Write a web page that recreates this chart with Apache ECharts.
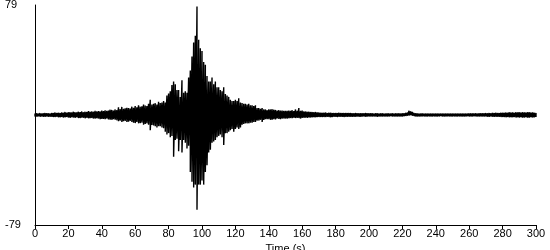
<!DOCTYPE html>
<html>
<head>
<meta charset="utf-8">
<script src="https://cdn.jsdelivr.net/npm/echarts@6/dist/echarts.min.js"></script>
<style>html,body{margin:0;padding:0;background:#fff}#c{width:550px;height:250px}</style>
</head>
<body>
<div id="c"></div>
<script>
// Sampling of the record (seconds)
const startTime = 0;
const sampleStep = 1;
// Highest acceleration in each second (cm/s/s)
const upperPeaks = [
  1,1.2,1,1.3,1.1,1.2,1.5,1.2,1.3,1.1,1.4,
  1.5,1.8,1.4,1.6,1.5,1.8,1.6,2.2,1.7,1.9,
  2,1.8,2.4,2,1.9,2.3,2.1,2.6,2,2.4,
  2.2,2.8,2.4,2.6,2.3,3,2.5,2.8,2.6,3.2,
  2.8,3.4,3,3.2,3.8,3.6,3.2,4,3.5,5.5,
  4.2,5.8,4.5,4.8,5.2,5,4.6,6,5.2,6.5,
  5.5,7,6,6.2,7.5,6.8,6.5,8,11,7.5,
  8,8.5,7.5,9.5,8.6,9,10,9,14,15.5,
  17,21.5,24,22,18,18,13,25,16,17,
  16,27,32,42,52,57,78,54,48,46,
  38,36,28,24,24,27,22,24,20,20,
  18,17,20,15,14,13,11,10,10,11,
  10,12,9,8.6,8,8,7.5,8,7,7,
  6.5,7,5,5,4.5,5,4,4,3.5,4,
  4,4.2,3.8,3.6,3.2,3.5,3.2,3.2,3,3,
  3,3.2,3,3.5,2.8,4,3,5,3,3.2,
  2.6,2.5,2.4,2.3,2.2,2.1,2,2.1,1.9,1.8,
  1.7,1.7,1.6,1.8,1.5,1.6,1.6,1.5,1.5,1.5,
  1.5,1.6,1.4,1.5,1.5,1.4,1.4,1.5,1.4,1.3,
  1.3,1.4,1.3,1.3,1.2,1.3,1.2,1.4,1.2,1.2,
  1.2,1.2,1.1,1.2,1.2,1.1,1.1,1.2,1.1,1.1,
  1.1,1.1,1,1.2,1.1,1.1,1.1,1.3,1.1,1.2,
  1.2,1.5,1.8,3,2.6,2.2,1.5,1.2,1.1,1,
  1,1.1,1,1,1,1,1,1,1,1,
  1,1,1,1,1,1,1,1,1,1,
  1,1,1,1,1,1,1,1,1,1.1,
  1.1,1.1,1.1,1.2,1.1,1.2,1.2,1.3,1.2,1.3,
  1.3,1.4,1.3,1.5,1.4,1.6,1.5,1.5,1.6,1.7,
  1.7,1.8,1.6,2,1.8,1.9,1.7,2,1.9,2,
  1.8,2,1.9,1.8,2,2,1.8,1.9,1.7,1.5
];
// Lowest acceleration in each second (cm/s/s)
const lowerPeaks = [
  -1,-1.1,-0.9,-1.2,-1,-1.2,-1.3,-1.1,-1.2,-1.3,-1.2,
  -1.5,-1.4,-1.3,-1.6,-1.6,-1.4,-1.8,-1.6,-1.5,-1.8,
  -2,-1.7,-1.8,-2,-1.6,-2.2,-2.2,-1.9,-2,-2.3,
  -2,-2.4,-2.3,-2.2,-2.6,-2.5,-2.4,-2.5,-3,-2.8,
  -2.8,-3,-2.6,-3.2,-3.4,-3.5,-3,-3.4,-3.8,-4.5,
  -4,-5,-4.5,-4.2,-5,-4.8,-4.2,-5,-5.5,-5.8,
  -5,-6,-5.8,-5.5,-7,-6.5,-6,-7,-11,-7.2,
  -7.5,-8,-9,-8,-8,-9,-9.5,-12,-14,-13,
  -16,-15,-30,-18,-17,-26,-18,-27,-18,-20,
  -24,-22,-41,-48,-52,-50,-68,-50,-50,-47,
  -50,-41,-36,-27,-25,-20,-19,-18,-16,-15,
  -14,-16,-21.5,-13,-13,-12,-11,-10,-12,-10,
  -9,-10,-9,-7,-6.5,-6,-6,-6,-5.5,-5.5,
  -5,-5,-4,-4,-3.5,-5,-3.5,-3,-3,-3,
  -3.5,-3.4,-3,-3.2,-2.5,-2.8,-3,-2.6,-2.5,-2.5,
  -2.5,-2.4,-2.2,-2.3,-2,-2.2,-2,-2.2,-2.5,-2,
  -2,-1.9,-2,-1.8,-1.8,-1.7,-1.6,-1.6,-1.5,-1.5,
  -1.5,-1.4,-1.4,-1.4,-1.3,-1.4,-1.6,-1.4,-1.2,-1.3,
  -1.4,-1.3,-1.2,-1.3,-1.5,-1.3,-1.2,-1.3,-1.3,-1.2,
  -1.2,-1.2,-1.1,-1.2,-1.2,-1.1,-1.1,-1.2,-1,-1.1,
  -1.1,-1.1,-1,-1.1,-1.2,-1,-1,-1.1,-1.1,-1,
  -1,-1,-0.9,-1.1,-1,-1,-1.1,-1.1,-1,-1,
  -0.8,-0.7,-0.5,-0.3,-0.2,-0.5,-0.8,-1,-1,-1,
  -1,-0.9,-0.9,-1,-1,-0.9,-1,-1,-0.9,-1,
  -1,-0.9,-0.8,-1,-1,-1,-0.9,-0.9,-1,-1,
  -0.9,-1,-1,-0.9,-1,-1,-1,-1,-0.9,-1,
  -1,-1,-0.9,-1.1,-1,-1,-1.1,-1.1,-1,-1.1,
  -1.2,-1.2,-1.1,-1.3,-1.2,-1.3,-1.3,-1.3,-1.4,-1.5,
  -1.5,-1.6,-1.4,-1.7,-1.6,-1.7,-1.5,-1.8,-1.7,-1.8,
  -1.6,-1.9,-1.8,-1.7,-1.9,-1.9,-1.6,-1.8,-1.7,-1.5
];
const yLimit = 79;
const xMax = 300;
const xTickStep = 20;
const xName = 'Time (s)';
const yName = 'cm/s/s';

// trace: within each second swing from its highest to its lowest reading
const seriesData = [];
upperPeaks.forEach((up, i) => {
  const t = startTime + i * sampleStep;
  seriesData.push([t, up]);
  seriesData.push([t, lowerPeaks[i]]);
});
const font = 'Liberation Sans, Arial, sans-serif';

const chart = echarts.init(document.getElementById('c'), null, {renderer: 'canvas'});
chart.setOption({
  animation: false,
  backgroundColor: '#ffffff',
  grid: {left: 35, right: 14, top: 5, bottom: 25, containLabel: false, outerBoundsMode: 'none'},
  xAxis: {
    type: 'value', min: 0, max: xMax, interval: xTickStep,
    name: xName, nameLocation: 'middle', nameGap: 14,
    nameTextStyle: {color: '#000', fontFamily: font, fontSize: 11},
    axisLine: {show: true, onZero: false, lineStyle: {color: '#000', width: 1}},
    axisTick: {show: true, length: 4, lineStyle: {color: '#000'}},
    axisLabel: {color: '#000', fontFamily: font, fontSize: 11, margin: 3},
    splitLine: {show: false}
  },
  yAxis: {
    type: 'value', min: -yLimit, max: yLimit, interval: 2 * yLimit,
    name: yName, nameLocation: 'middle', nameGap: 23, nameRotate: 90,
    nameTextStyle: {color: '#000', fontFamily: font, fontSize: 11},
    axisLine: {show: true, lineStyle: {color: '#000', width: 1}},
    axisTick: {show: false},
    axisLabel: {color: '#000', fontFamily: font, fontSize: 11, align: 'left', margin: 30},
    splitLine: {show: false}
  },
  series: [{
    type: 'line', data: seriesData, showSymbol: false, symbol: 'none',
    lineStyle: {color: '#000', width: 1.4}, silent: true, sampling: null
  }]
});
</script>
</body>
</html>
